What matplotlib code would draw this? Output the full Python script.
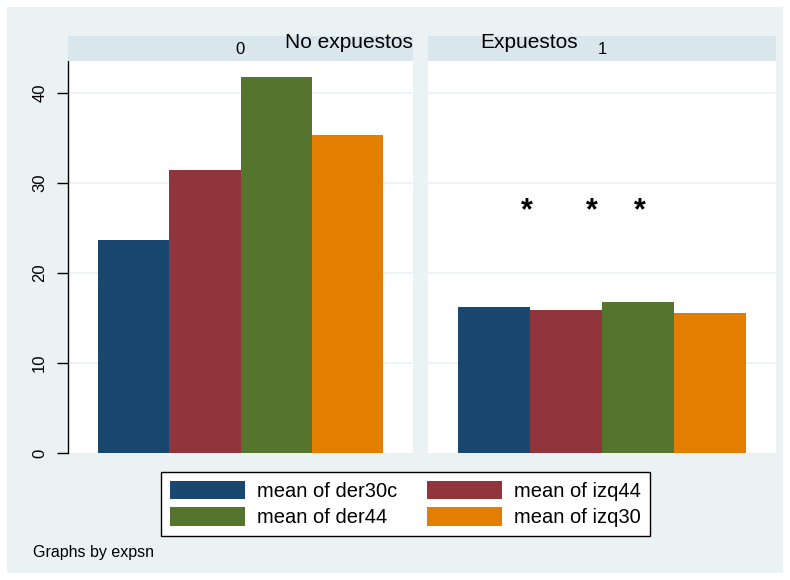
import matplotlib
matplotlib.use("Agg")
import matplotlib.pyplot as plt
from matplotlib.patches import Rectangle, Patch

plt.rcParams["font.family"] = ["Liberation Sans", "DejaVu Sans"]

series = ["mean of der30c", "mean of izq44", "mean of der44", "mean of izq30"]
colors = ["#1A476F", "#90353B", "#55752F", "#E37E00"]
groups = ["0", "1"]
group_labels = ["No expuestos", "Expuestos"]
values_0 = [23.7, 31.5, 41.8, 35.3]
values_1 = [16.2, 15.9, 16.8, 15.6]
star_x = [0.46, 1.36, 2.03]
star_y = 26.9
yticks = [0, 10, 20, 30, 40]

W, H = 790, 580
fig = plt.figure(figsize=(W / 100, H / 100), dpi=100)
fig.patch.set_facecolor("white")
bg = "#EAF2F3"
strip_c = "#D9E6EB"
fig.add_artist(Rectangle((7 / W, 7 / H), (783 - 7) / W, (573 - 7) / H,
                         transform=fig.transFigure, facecolor=bg, edgecolor="none", zorder=-10))

def ax_rect(x0, x1, y0, y1):
    return [x0 / W, 1 - y1 / H, (x1 - x0) / W, (y1 - y0) / H]

panels = [(68, 413), (428, 776)]
top, bottom = 61, 453
ylim = (0, (bottom - top) / 9.0)
vals = [values_0, values_1]
axes = []
for i, (x0, x1) in enumerate(panels):
    ax = fig.add_axes(ax_rect(x0, x1, top, bottom))
    ax.set_facecolor("white")
    ax.bar(range(4), vals[i], width=1.0, color=colors, edgecolor="none", zorder=3)
    ax.set_xlim(-0.92, 3.92)
    ax.set_ylim(*ylim)
    for s in ["top", "right", "bottom"]:
        ax.spines[s].set_visible(False)
    ax.set_yticks(yticks)
    for t in yticks[1:]:
        ax.axhline(t, color=bg, lw=1.2, zorder=1)
    ax.set_xticks([])
    if i == 0:
        ax.spines["left"].set_color("black")
        ax.spines["left"].set_linewidth(1.0)
        ax.tick_params(axis="y", length=8, width=1, color="black", labelsize=12, pad=7)
        for lab in ax.get_yticklabels():
            lab.set_rotation(90)
            lab.set_va("center")
    else:
        ax.spines["left"].set_visible(False)
        ax.tick_params(axis="y", left=False, labelleft=False)
    axes.append(ax)
    sax = fig.add_axes(ax_rect(x0, x1, 36, 61))
    sax.set_facecolor(strip_c)
    sax.set_xticks([]); sax.set_yticks([])
    for s in sax.spines.values():
        s.set_visible(False)
    fig.text((x0 + x1) / 2 / W, 1 - 49 / H, groups[i], ha="center", va="center", fontsize=12)

for s_x in star_x:
    axes[1].text(s_x, star_y, "*", ha="center", va="center", fontsize=22, fontweight="bold", zorder=5)

fig.text(349 / W, 1 - 43 / H, group_labels[0], ha="center", va="center", fontsize=15)
fig.text(529 / W, 1 - 43 / H, group_labels[1], ha="center", va="center", fontsize=15)

handles = [Patch(facecolor=c, edgecolor="none", label=l) for c, l in zip(colors, series)]
order = [0, 2, 1, 3]
leg = fig.legend([handles[k] for k in order], [series[k] for k in order], ncol=2,
                 loc="center", bbox_to_anchor=(405.5 / W, 1 - 504 / H),
                 fontsize=14.5, frameon=True, fancybox=False, edgecolor="black",
                 framealpha=1.0, handlelength=3.75, handleheight=1.05, columnspacing=1.45,
                 handletextpad=0.6, labelspacing=0.32, borderpad=0.42, borderaxespad=0)
leg.get_frame().set_linewidth(1.0)

fig.text(33 / W, 1 - 552 / H, "Graphs by expsn", ha="left", va="center", fontsize=11.5)

fig.savefig("out.png", dpi=100, facecolor=fig.get_facecolor())
